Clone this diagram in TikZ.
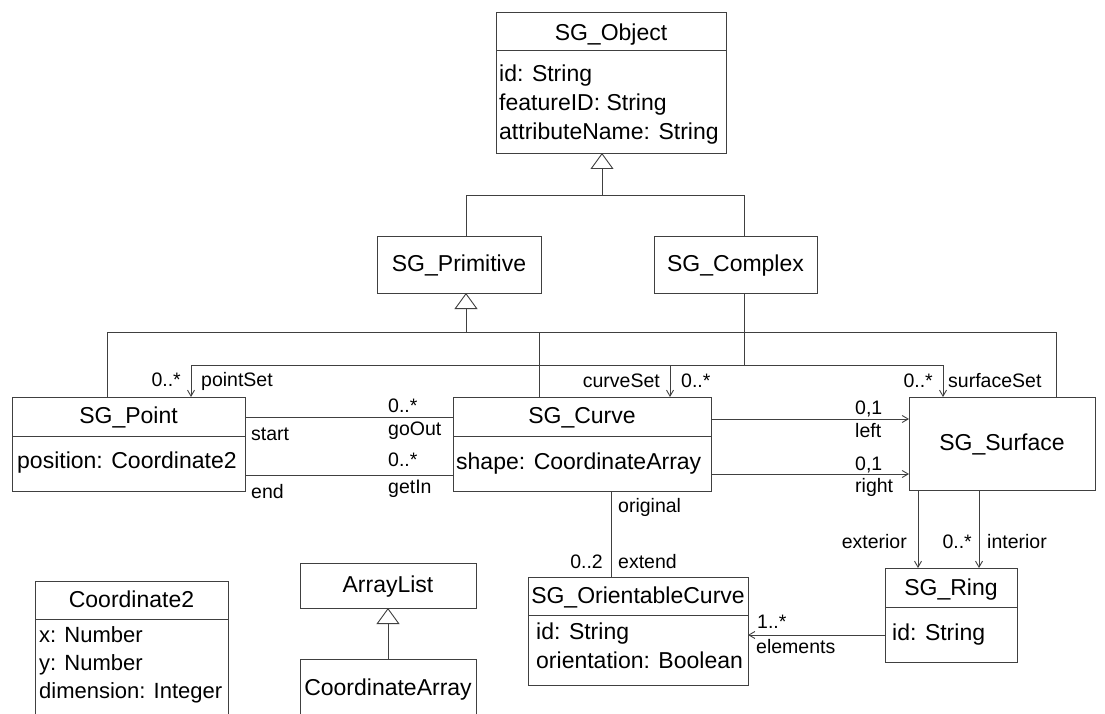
\documentclass[tikz,border=0pt]{standalone}
\usepackage{fontspec}
\setmainfont{Liberation Sans}
\usetikzlibrary{arrows.meta}
\definecolor{lc}{HTML}{404040}
\tikzset{
  cls/.style={draw=lc, line width=0.9pt, inner sep=0pt, outer sep=0pt, anchor=north west},
  ttl/.style={font=\fontsize{23}{27}\selectfont, inner sep=0pt, anchor=base},
  att/.style={font=\fontsize{23}{27}\selectfont, inner sep=0pt, anchor=base west},
  attsm/.style={font=\fontsize{22}{26}\selectfont, inner sep=0pt, anchor=base west},
  lbl/.style={font=\fontsize{19.5}{23}\selectfont, inner sep=0pt},
  ln/.style={draw=lc, line width=0.9pt},
  nav/.style={ln, -{Straight Barb[length=6pt,width=7pt]}},
  gen/.style={ln, -{Triangle[open,length=16pt,width=23pt,fill=white]}},
  sep/.style={draw=lc, line width=0.9pt}
}
\begin{document}
\begin{tikzpicture}[x=1pt,y=-1pt]
\useasboundingbox (0,0) rectangle (1105,714);
\clip (0,0) rectangle (1105,714);

% ---------- classes ----------
\node[cls, minimum width=230pt, minimum height=141pt] (obj) at (496,12) {};
\draw[sep] (496,50) -- (726,50);
\node[ttl] (objT) at (611,41) {SG\_Object};
\node[att] (objA1) at (499,82) {id: String};
\node[att] (objA2) at (499,111) {featureID: String};
\node[att] (objA3) at (499,140) {attributeName: String};

\node[cls, minimum width=164pt, minimum height=57pt] (prim) at (377,236) {};
\node[ttl] (primT) at (459,271) {SG\_Primitive};

\node[cls, minimum width=163pt, minimum height=57pt] (cplx) at (654,236) {};
\node[ttl] (cplxT) at (735.5,271) {SG\_Complex};

\node[cls, minimum width=233pt, minimum height=94pt] (pt) at (12,397) {};
\draw[sep] (12,436) -- (245,436);
\node[ttl] (ptT) at (128.5,423) {SG\_Point};
\node[att] (ptA) at (17,468) {position: Coordinate2};

\node[cls, minimum width=258pt, minimum height=94pt] (crv) at (453,397) {};
\draw[sep] (453,436) -- (711,436);
\node[ttl] (crvT) at (582,423) {SG\_Curve};
\node[att] (crvA) at (456,469) {shape: CoordinateArray};

\node[cls, minimum width=186pt, minimum height=93pt] (surf) at (909,397) {};
\node[ttl] (surfT) at (1002,450) {SG\_Surface};

\node[cls, minimum width=220pt, minimum height=108pt] (oc) at (528,577) {};
\draw[sep] (528,615) -- (748,615);
\node[ttl] (ocT) at (638,603) {SG\_OrientableCurve};
\node[att] (ocA1) at (536,639) {id: String};
\node[att] (ocA2) at (536,668) {orientation: Boolean};

\node[cls, minimum width=132pt, minimum height=94pt] (ring) at (885,568) {};
\draw[sep] (885,607) -- (1017,607);
\node[ttl] (ringT) at (951,595) {SG\_Ring};
\node[att] (ringA) at (892,640) {id: String};

\node[cls, minimum width=193pt, minimum height=160pt] (c2) at (35,581) {};
\draw[sep] (35,619) -- (228,619);
\node[ttl] (c2T) at (131.5,607) {Coordinate2};
\node[attsm] (c2A1) at (39,642) {x: Number};
\node[attsm] (c2A2) at (39,670) {y: Number};
\node[attsm] (c2A3) at (39,698) {dimension: Integer};

\node[cls, minimum width=176pt, minimum height=45pt] (al) at (300,563) {};
\node[ttl] (alT) at (388,592) {ArrayList};

\node[cls, minimum width=176pt, minimum height=80pt] (ca) at (300,659) {};
\node[ttl] (caT) at (388,695) {CoordinateArray};

% ---------- generalization: SG_Object ----------
\coordinate (gA) at (466,195);
\coordinate (gB) at (744,195);
\coordinate (gO) at (602,195);
\draw[ln] (prim.north -| gA) -- (gA) -- (gB) -- (cplx.north -| gB);
\draw[gen] (gO) -- (obj.south -| gO);

% ---------- generalization: SG_Primitive ----------
\coordinate (hL) at (107,332);
\coordinate (hR) at (1056,332);
\coordinate (hC) at (539,332);
\coordinate (hP) at (466,332);
\draw[ln] (pt.north -| hL) -- (hL) -- (hR) -- (surf.north -| hR);
\draw[ln] (hC) -- (crv.north -| hC);
\draw[gen] (hP) -- (prim.south -| hP);

% ---------- SG_Complex associations ----------
\coordinate (cJ) at (744,365);
\coordinate (cL) at (191,365);
\coordinate (cR) at (943,365);
\coordinate (cM) at (670,365);
\draw[ln] (cplx.south -| cJ) -- (cJ);
\draw[nav] (cJ) -- (cL) -- (pt.north -| cL);
\draw[nav] (cJ) -- (cR) -- (surf.north -| cR);
\draw[nav] (cM) -- (crv.north -| cM);
\node[lbl, anchor=base east] (l1) at (181,386) {0..*};
\node[lbl, anchor=base west] (l2) at (201,386) {pointSet};
\node[lbl, anchor=base east] (l3) at (660,387) {curveSet};
\node[lbl, anchor=base west] (l4) at (681,387) {0..*};
\node[lbl, anchor=base east] (l5) at (933,387) {0..*};
\node[lbl, anchor=base west] (l6) at (948,387) {surfaceSet};

% ---------- Point - Curve ----------
\coordinate (r1) at (0,417);
\coordinate (r2) at (0,475);
\draw[ln] (pt.east |- r1) -- (crv.west |- r1);
\draw[ln] (pt.east |- r2) -- (crv.west |- r2);
\node[lbl, anchor=base west] (l7) at (251,440) {start};
\node[lbl, anchor=base west] (l8) at (388,412) {0..*};
\node[lbl, anchor=base west] (l9) at (388,435) {goOut};
\node[lbl, anchor=base west] (l10) at (251,498) {end};
\node[lbl, anchor=base west] (l11) at (388,466) {0..*};
\node[lbl, anchor=base west] (l12) at (388,493) {getIn};

% ---------- Curve - Surface ----------
\coordinate (r3) at (0,419);
\coordinate (r4) at (0,474);
\draw[nav] (crv.east |- r3) -- (surf.west |- r3);
\draw[nav] (crv.east |- r4) -- (surf.west |- r4);
\node[lbl, anchor=base west] (l13) at (855,414) {0,1};
\node[lbl, anchor=base west] (l14) at (855,437) {left};
\node[lbl, anchor=base west] (l15) at (855,470) {0,1};
\node[lbl, anchor=base west] (l16) at (855,492) {right};

% ---------- Curve - OrientableCurve ----------
\coordinate (v1) at (611,0);
\draw[ln] (crv.south -| v1) -- (oc.north -| v1);
\node[lbl, anchor=base west] (l17) at (618,512) {original};
\node[lbl, anchor=base east] (l18) at (603,568) {0..2};
\node[lbl, anchor=base west] (l19) at (618,568) {extend};

% ---------- Surface - Ring ----------
\coordinate (v2) at (918,0);
\coordinate (v3) at (979,0);
\draw[nav] (surf.south -| v2) -- (ring.north -| v2);
\draw[nav] (surf.south -| v3) -- (ring.north -| v3);
\node[lbl, anchor=base east] (l20) at (907,548) {exterior};
\node[lbl, anchor=base east] (l21) at (972,548) {0..*};
\node[lbl, anchor=base west] (l22) at (987,548) {interior};

% ---------- Ring - OrientableCurve ----------
\coordinate (r5) at (0,635);
\draw[nav] (ring.west |- r5) -- (oc.east |- r5);
\node[lbl, anchor=base west] (l23) at (757,628) {1..*};
\node[lbl, anchor=base west] (l24) at (756,653) {elements};

% ---------- ArrayList - CoordinateArray ----------
\coordinate (v4) at (388,0);
\draw[gen] (ca.north -| v4) -- (al.south -| v4);
\end{tikzpicture}
\end{document}
